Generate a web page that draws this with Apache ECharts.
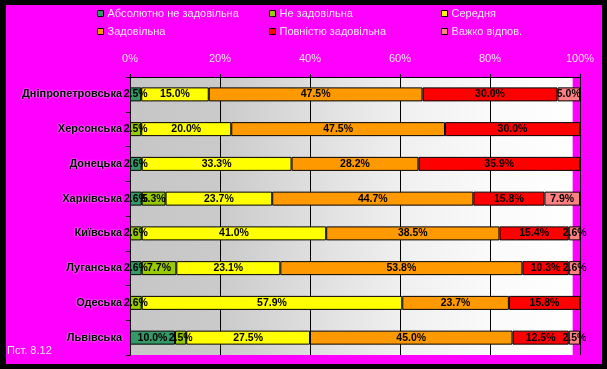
<!DOCTYPE html>
<html>
<head>
<meta charset="utf-8">
<script src="https://cdn.jsdelivr.net/npm/echarts@6/dist/echarts.min.js"></script>
<style>
html,body{margin:0;padding:0;background:#000;}
#bg{position:absolute;left:6px;top:5px;width:596px;height:359px;background:#ff00ff;}
#main{position:absolute;left:0;top:0;width:607px;height:369px;}
</style>
</head>
<body>
<div id="bg"></div>
<div id="main"></div>
<script>
const categories = ['Дніпропетровська','Херсонська','Донецька','Харківська','Київська','Луганська','Одеська','Львівська'];
const seriesNames = ['Абсолютно не задовільна','Не задовільна','Середня','Задовільна','Повністю задовільна','Важко відпов.'];
const absNeZad   = [2.5, 0,   2.6,  2.6,  0,    2.6,  0,    10.0];
const neZad      = [0,   2.5, 0,    5.3,  2.6,  7.7,  2.6,  2.5];
const serednia   = [15.0,20.0,33.3, 23.7, 41.0, 23.1, 57.9, 27.5];
const zadovilna  = [47.5,47.5,28.2, 44.7, 38.5, 53.8, 23.7, 45.0];
const povnZad    = [30.0,30.0,35.9, 15.8, 15.4, 10.3, 15.8, 12.5];
const vazhko     = [5.0, 0,   0,    7.9,  2.6,  2.6,  0,    2.5];
const xTicks = [0,20,40,60,80,100];
const footnote = 'Пст. 8.12';

const values = [absNeZad, neZad, serednia, zadovilna, povnZad, vazhko];
const colors = ['#339966','#99cc00','#ffff00','#ff9900','#ff0000','#ff8080'];
const FONT = 'Liberation Sans';

const lightText = {
  color:'#e8e8e8', fontFamily:FONT, fontSize:11,
  textShadowColor:'#000', textShadowOffsetX:1, textShadowOffsetY:1, textShadowBlur:0
};

const legendPos = [[97,8],[269,8],[441,8],[97,26],[269,26],[441,26]];
const legends = seriesNames.map((n,i)=>({
  data:[n], left:legendPos[i][0], top:legendPos[i][1], padding:0,
  icon:'rect', itemWidth:6, itemHeight:6, itemGap:0,
  itemStyle:{borderColor:'#000', borderWidth:1},
  textStyle:Object.assign({}, lightText, {padding:[0,0,0,-1]})
}));

const chart = echarts.init(document.getElementById('main'), null, {renderer:'canvas'});
chart.setOption({
  backgroundColor:'transparent',
  animation:false,
  title:{text:footnote, left:7, top:345, padding:0, textStyle:Object.assign({}, lightText, {fontWeight:'normal'})},
  legend:legends,
  grid:{left:130, right:27, top:77, bottom:14, show:true, borderWidth:0,
    backgroundColor:new echarts.graphic.LinearGradient(0,0,1,0,[
      {offset:0, color:'#c6c6c6'},
      {offset:0.2, color:'#cacaca'},
      {offset:0.4, color:'#dedede'},
      {offset:0.6, color:'#efefef'},
      {offset:0.8, color:'#fafafa'},
      {offset:0.983, color:'#ffffff'},
      {offset:0.984, color:'#ff00ff'},
      {offset:1, color:'#ff00ff'}
    ])},
  xAxis:{type:'value', position:'top', min:xTicks[0], max:xTicks[xTicks.length-1], interval:20,
    axisLine:{show:true, lineStyle:{color:'#000', width:1}},
    axisTick:{show:true, length:3, lineStyle:{color:'#000'}},
    splitLine:{show:true, lineStyle:{color:'#000', width:1}},
    axisLabel:Object.assign({formatter:'{value}%', margin:13}, lightText)
  },
  yAxis:{type:'category', data:categories, inverse:true,
    axisLine:{show:true, lineStyle:{color:'#000', width:1}},
    axisTick:{show:true, length:4, lineStyle:{color:'#000'}},
    axisLabel:{color:'#000', fontFamily:FONT, fontSize:11, fontWeight:'bold', margin:8,
      textShadowColor:'rgba(255,255,255,0.9)', textShadowBlur:2}
  },
  series:seriesNames.map((n,i)=>({
    name:n, type:'bar', stack:'total', barWidth:14,
    data:values[i].map(v=> v===0 ? '-' : v),
    itemStyle:{color:colors[i], borderColor:'#000', borderWidth:1},
    label:{show:true, position:'inside', color:'#000', fontFamily:FONT, fontSize:10.5, fontWeight:'bold',
      formatter:p=> (typeof p.value==='number' && p.value>0) ? p.value.toFixed(1)+'%' : ''}
  }))
});
</script>
</body>
</html>
